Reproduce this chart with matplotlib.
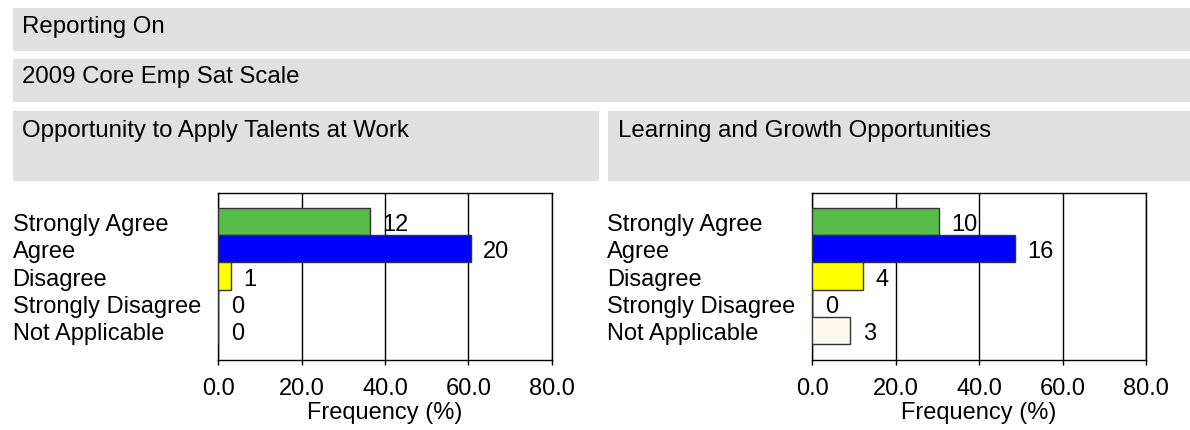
import matplotlib
matplotlib.use("Agg")
import matplotlib.pyplot as plt
import matplotlib.transforms as mtransforms
from matplotlib.patches import Rectangle

# ---------------- data ----------------
categories = ["Strongly Agree", "Agree", "Disagree", "Strongly Disagree", "Not Applicable"]
left_title = "Opportunity to Apply Talents at Work"
left_counts = [12, 20, 1, 0, 0]
left_pct = [36.4, 60.6, 3.0, 0.0, 0.0]
right_title = "Learning and Growth Opportunities"
right_counts = [10, 16, 4, 0, 3]
right_pct = [30.3, 48.5, 12.1, 0.0, 9.1]
bar_colors = ["#56BB48", "#0000FF", "#FFFF00", "#F0F0F0", "#FDF8EE"]
xticks = [0, 20, 40, 60, 80]
xtick_labels = ["0.0", "20.0", "40.0", "60.0", "80.0"]
xlabel = "Frequency (%)"
header1 = "Reporting On"
header2 = "2009 Core Emp Sat Scale"

# ---------------- style ----------------
plt.rcParams['font.family'] = ['Liberation Sans', 'DejaVu Sans']
FS = 17
FS_HEAD = 17.3
GRAY = "#E0E0E0"
W, H = 1190, 430

fig = plt.figure(figsize=(W / 100, H / 100), dpi=100)


def box(x0, y0, x1, y1):
    fig.add_artist(Rectangle((x0 / W, 1 - y1 / H), (x1 - x0) / W, (y1 - y0) / H,
                             transform=fig.transFigure, facecolor=GRAY,
                             edgecolor='none', zorder=0))


def ftext(x, ybase, s):
    fig.text(x / W, 1 - ybase / H, s, ha='left', va='baseline', fontsize=FS_HEAD, color='black')


# header boxes
box(12.7, 8.3, 1190, 50.7)
box(12.7, 59.0, 1190, 101.7)
box(12.7, 111.0, 599.0, 180.7)
box(608.3, 111.0, 1190, 180.7)
ftext(22.5, 32.5, header1)
ftext(22.5, 83.5, header2)
ftext(22.5, 136.7, left_title)
ftext(618.0, 136.7, right_title)


def make_panel(ax_left, ax_right, label_x, pct, counts):
    ax = fig.add_axes([ax_left / W, 1 - 360.0 / H, (ax_right - ax_left) / W, (360.0 - 193.3) / H])
    ypos = list(range(len(categories)))
    ax.barh(ypos, pct, height=1.0, color=bar_colors, edgecolor='#333333',
            linewidth=1.0, zorder=3)
    ax.set_xlim(0, 80)
    ax.set_ylim(5.08, -1.03)
    ax.set_xticks(xticks)
    ax.set_xticklabels(xtick_labels)
    ax.set_yticks([])
    ax.set_axisbelow(True)
    ax.xaxis.grid(True, color='black', linewidth=1.0)
    for sp in ax.spines.values():
        sp.set_color('black')
        sp.set_linewidth(1.0)
    ax.tick_params(axis='x', direction='out', length=3.6, width=1.0,
                   labelsize=FS, pad=9.5, colors='black')
    ax.set_xlabel(xlabel, fontsize=FS, labelpad=1.0)

    # value labels
    tr_val = mtransforms.offset_copy(ax.transData, fig=fig, x=12.5, y=-9.6, units='dots')
    for y, v, c in zip(ypos, pct, counts):
        ax.text(v, y, str(c), transform=tr_val, ha='left', va='baseline',
                fontsize=FS, zorder=4)

    # category labels (left aligned in figure space)
    blend = mtransforms.blended_transform_factory(fig.transFigure, ax.transData)
    tr_cat = mtransforms.offset_copy(blend, fig=fig, x=0, y=-9.6, units='dots')
    for y, name in zip(ypos, categories):
        ax.text(label_x / W, y, name, transform=tr_cat, ha='left', va='baseline',
                fontsize=FS, clip_on=False)
    return ax


make_panel(218.3, 551.7, 12.5, left_pct, left_counts)
make_panel(812.3, 1146.0, 607.3, right_pct, right_counts)

fig.savefig("out.png", dpi=100, facecolor='white')
